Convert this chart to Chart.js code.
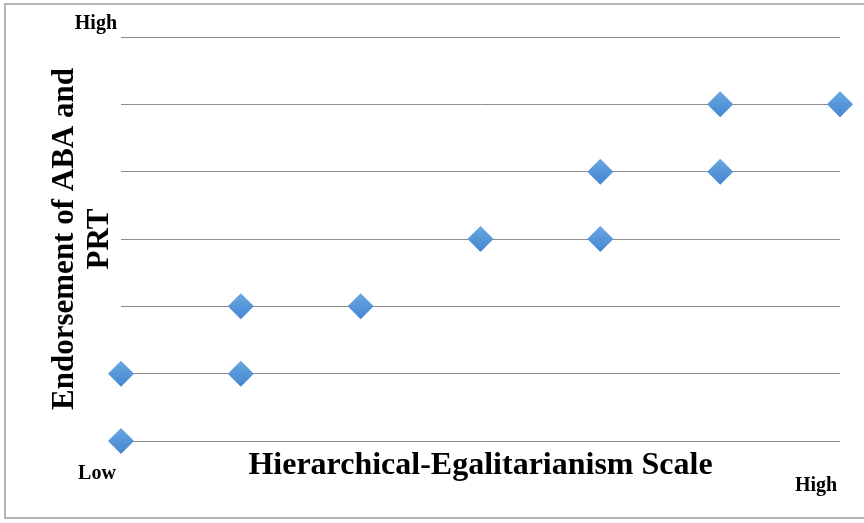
<!DOCTYPE html>
<html>
<head>
<meta charset="utf-8">
<script src="https://cdn.jsdelivr.net/npm/chart.js@4/dist/chart.umd.min.js"></script>
<style>
  html, body { margin: 0; padding: 0; background: #fff; overflow: hidden; }
  #frame { position: absolute; left: 4px; top: 3px; width: 880px; height: 516px; border: 2px solid #b4b4b4; box-sizing: border-box; }
  #wrap { position: absolute; left: 0; top: 0; width: 864px; height: 523px; }
</style>
</head>
<body>
<div id="frame"></div>
<div id="wrap"><canvas id="c" width="864" height="523"></canvas></div>
<script>
// Data
const xValues = [0, 0, 1, 1, 2, 3, 4, 4, 5, 5, 6];
const yValues = [0, 1, 1, 2, 2, 3, 3, 4, 4, 5, 5];
const xTickLabels = { 0: 'Low', 6: ['', 'High'] };
const yTickLabels = { 6: 'High' };
const xTitle = 'Hierarchical-Egalitarianism Scale';
const yTitle = ['Endorsement of ABA and', 'PRT'];

const points = xValues.map((x, i) => ({ x: x, y: yValues[i] }));
const serif = '"Liberation Serif", "Times New Roman", serif';

function diamondFill(ctx) {
  const chart = ctx.chart;
  if (!chart.chartArea || ctx.parsed === undefined || ctx.parsed === null) return '#5593d7';
  const py = chart.scales.y.getPixelForValue(ctx.parsed.y);
  const g = chart.ctx.createLinearGradient(0, py - 13, 0, py + 13);
  g.addColorStop(0, '#6aa8e2');
  g.addColorStop(1, '#4385cf');
  return g;
}

new Chart(document.getElementById('c'), {
  type: 'scatter',
  data: {
    datasets: [{
      data: points,
      pointStyle: 'rectRot',
      pointRadius: 13,
      pointHoverRadius: 13,
      backgroundColor: diamondFill,
      borderWidth: 0,
      clip: false
    }]
  },
  options: {
    responsive: false,
    animation: false,
    events: [],
    layout: { padding: { left: 0, right: 24, top: 37, bottom: 0 } },
    plugins: { legend: { display: false }, tooltip: { enabled: false } },
    scales: {
      x: {
        type: 'linear',
        min: 0, max: 6,
        afterFit: (s) => { s.height = 82; s.paddingLeft = 0; s.paddingRight = 0; },
        afterBuildTicks: (s) => { s.ticks = [0, 1, 2, 3, 4, 5, 6].map(v => ({ value: v })); },
        grid: { display: false, drawTicks: false },
        border: { display: false },
        ticks: {
          autoSkip: false,
          maxRotation: 0,
          padding: 27,
          labelOffset: -24,
          color: '#000',
          font: { family: serif, size: 20, weight: 'bold', lineHeight: 0.6 },
          callback: (v) => (xTickLabels[v] !== undefined ? xTickLabels[v] : '')
        },
        title: {
          display: true,
          text: xTitle,
          color: '#000',
          font: { family: serif, size: 32, weight: 'bold', lineHeight: 1 },
          padding: { top: 0, bottom: 41 }
        }
      },
      y: {
        type: 'linear',
        min: 0, max: 6,
        afterFit: (s) => { s.width = 121; s.paddingTop = 0; s.paddingBottom = 0; },
        afterBuildTicks: (s) => { s.ticks = [0, 1, 2, 3, 4, 5, 6].map(v => ({ value: v })); },
        grid: { display: true, drawTicks: false, color: '#8c8c8c', lineWidth: 1 },
        border: { display: false },
        ticks: {
          padding: 4,
          labelOffset: -13,
          color: '#000',
          font: { family: serif, size: 20, weight: 'bold' },
          callback: (v) => (yTickLabels[v] !== undefined ? yTickLabels[v] : '')
        },
        title: {
          display: true,
          text: yTitle,
          color: '#000',
          font: { family: serif, size: 31, weight: 'bold', lineHeight: 35 / 31 },
          padding: { top: 47.5, bottom: 0 }
        }
      }
    }
  }
});
</script>
</body>
</html>
